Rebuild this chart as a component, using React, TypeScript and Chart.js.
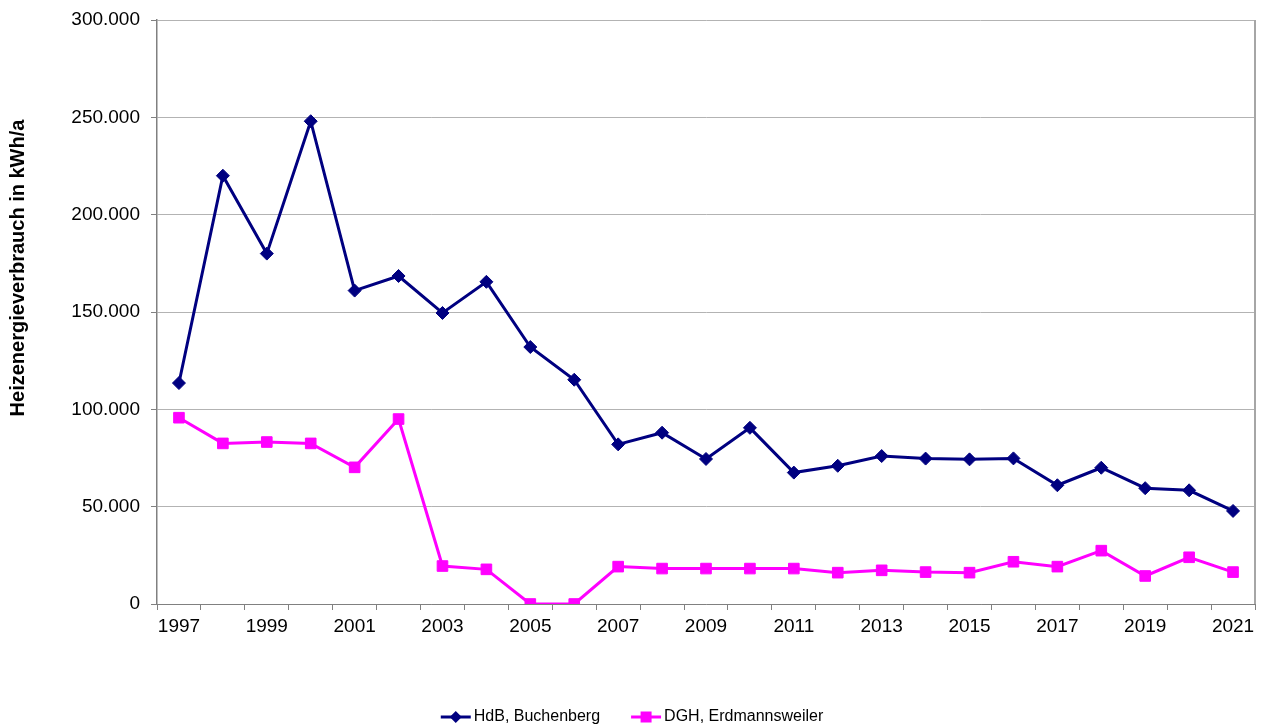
import React, { useEffect, useRef } from "react";
import { Chart, registerables } from "chart.js";

Chart.register(...registerables);

const years: string[] = [
  "1997", "1998", "1999", "2000", "2001", "2002", "2003", "2004", "2005",
  "2006", "2007", "2008", "2009", "2010", "2011", "2012", "2013", "2014",
  "2015", "2016", "2017", "2018", "2019", "2020", "2021",
];

const hdbBuchenberg: number[] = [
  113500, 220000, 180000, 248000, 161000, 168500, 149500, 165500, 132000,
  115200, 82000, 88000, 74500, 90500, 67500, 71000, 76000, 74700,
  74300, 74800, 61000, 70000, 59500, 58400, 47800,
];

const dghErdmannsweiler: number[] = [
  95700, 82500, 83200, 82500, 70200, 95000, 19500, 17800, 0,
  0, 19200, 18200, 18200, 18200, 18200, 16100, 17300, 16400,
  16100, 21700, 19200, 27400, 14400, 24000, 16400,
];

const seriesNames: string[] = ["HdB, Buchenberg", "DGH, Erdmannsweiler"];
const seriesColors: string[] = ["#000080", "#FF00FF"];
const yAxisTitle = "Heizenergieverbrauch in kWh/a";

const FONT = "'Liberation Sans', Arial, Helvetica, sans-serif";

function fmtDe(v: number): string {
  return String(Math.round(v)).replace(/\B(?=(\d{3})+(?!\d))/g, ".");
}

const decorPlugin = {
  id: "decor",
  afterDraw(chart: any) {
    const ctx = chart.ctx as CanvasRenderingContext2D;
    const area = chart.chartArea;
    // right border of plot area
    ctx.save();
    ctx.strokeStyle = "#a6a6a6";
    ctx.lineWidth = 2;
    ctx.beginPath();
    ctx.moveTo(area.right, area.top);
    ctx.lineTo(area.right, area.bottom);
    ctx.stroke();
    ctx.restore();

    // y axis title
    ctx.save();
    ctx.translate(18, 268);
    ctx.rotate(-Math.PI / 2);
    ctx.font = `bold 20px ${FONT}`;
    ctx.fillStyle = "#000";
    ctx.textAlign = "center";
    ctx.textBaseline = "middle";
    ctx.fillText(yAxisTitle, 0, 0);
    ctx.restore();

    // legend
    ctx.save();
    ctx.font = `16px ${FONT}`;
    const lineLen = 30;
    const textGap = 3;
    const itemGap = 31;
    const widths = seriesNames.map((n) => lineLen + textGap + ctx.measureText(n).width);
    const total = widths.reduce((a, b) => a + b, 0) + itemGap * (seriesNames.length - 1);
    let x = 632 - total / 2;
    const y = 717;
    seriesNames.forEach((name, i) => {
      const c = seriesColors[i];
      ctx.strokeStyle = c;
      ctx.fillStyle = c;
      ctx.lineWidth = 3;
      ctx.beginPath();
      ctx.moveTo(x, y);
      ctx.lineTo(x + lineLen, y);
      ctx.stroke();
      const cx = x + lineLen / 2;
      ctx.beginPath();
      if (i === 0) {
        const r = 6;
        ctx.moveTo(cx - r, y);
        ctx.lineTo(cx, y - r);
        ctx.lineTo(cx + r, y);
        ctx.lineTo(cx, y + r);
        ctx.closePath();
      } else {
        const s = 5.5;
        ctx.rect(cx - s, y - s, 2 * s, 2 * s);
      }
      ctx.fill();
      ctx.fillStyle = "#000";
      ctx.textAlign = "left";
      ctx.textBaseline = "middle";
      ctx.fillText(name, x + lineLen + textGap, y);
      x += widths[i] + itemGap;
    });
    ctx.restore();
  },
};

export default function App() {
  const canvasRef = useRef<HTMLCanvasElement | null>(null);

  useEffect(() => {
    if (!canvasRef.current) return;
    const chart = new Chart(canvasRef.current, {
      type: "line",
      data: {
        labels: years,
        datasets: [
          {
            label: seriesNames[0],
            data: hdbBuchenberg,
            borderColor: seriesColors[0],
            backgroundColor: seriesColors[0],
            borderWidth: 3,
            pointStyle: "rectRot",
            pointRadius: 6.5,
            pointBorderWidth: 1,
            pointBorderColor: seriesColors[0],
            pointBackgroundColor: seriesColors[0],
            tension: 0,
          },
          {
            label: seriesNames[1],
            data: dghErdmannsweiler,
            borderColor: seriesColors[1],
            backgroundColor: seriesColors[1],
            borderWidth: 3,
            pointStyle: "rect",
            pointRadius: 7.5,
            pointBorderWidth: 1,
            pointBorderColor: seriesColors[1],
            pointBackgroundColor: seriesColors[1],
            tension: 0,
          },
        ],
      },
      options: {
        animation: false,
        responsive: true,
        maintainAspectRatio: false,
        layout: { padding: { left: 0, right: 14, top: 20, bottom: 0 } },
        plugins: {
          legend: { display: false },
          tooltip: { enabled: false },
          title: { display: false },
        },
        scales: {
          x: {
            type: "category",
            offset: true,
            afterFit: (s: any) => {
              s.height = 122;
              s.paddingLeft = 0;
              s.paddingRight = 0;
            },
            grid: {
              offset: true,
              drawOnChartArea: false,
              drawTicks: true,
              tickLength: 6,
              color: "#808080",
              lineWidth: 1,
            },
            border: { display: true, color: "#808080", width: 1 },
            ticks: {
              autoSkip: false,
              maxRotation: 0,
              minRotation: 0,
              padding: 5,
              color: "#000",
              font: { family: FONT, size: 19 },
              callback: (_v: any, i: number) => (i % 2 === 0 ? years[i] : ""),
            },
          },
          y: {
            min: 0,
            max: 300000,
            afterFit: (s: any) => {
              s.width = 157;
              s.paddingTop = 0;
              s.paddingBottom = 0;
            },
            grid: {
              color: "#b3b3b3",
              lineWidth: 1,
              drawTicks: true,
              tickLength: 6,
              tickColor: "#808080",
            },
            border: { display: true, color: "#808080", width: 1.5 },
            ticks: {
              stepSize: 50000,
              padding: 11,
              color: "#000",
              font: { family: FONT, size: 19 },
              callback: (v: any) => fmtDe(Number(v)),
            },
          },
        },
      },
      plugins: [decorPlugin],
    });
    return () => chart.destroy();
  }, []);

  return (
    <div style={{ position: "fixed", left: 0, top: 0, width: 1269, height: 726, background: "#fff" }}>
      <canvas ref={canvasRef} />
    </div>
  );
}
